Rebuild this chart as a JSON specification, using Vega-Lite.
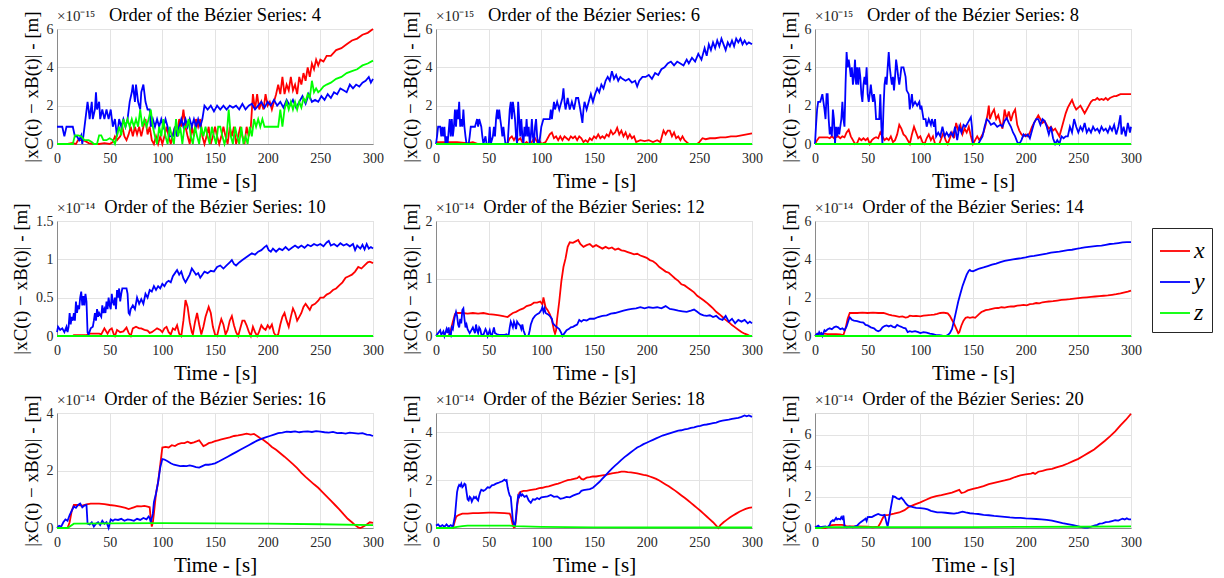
{
"$schema": "https://vega.github.io/schema/vega-lite/v6.json",
"background": "white",
"padding": {"left": 10, "top": 5, "right": 5, "bottom": 5},
"config": {
  "font": "Liberation Serif",
  "view": {"stroke": "#d9d9d9", "strokeWidth": 1},
  "axis": {"labelFont": "Liberation Serif", "labelFontSize": 14, "labelColor": "#262626", "labelFlush": false, "titleFont": "Liberation Serif", "titleFontSize": 19, "titleFontWeight": "normal", "titleColor": "#000000", "gridColor": "#e3e3e3", "domainColor": "#8a8a8a", "ticks": false, "labelPadding": 5},
  "axisX": {"titleFontSize": 21, "titlePadding": 5, "labelPadding": 7},
  "axisY": {"titlePadding": 5, "labelPadding": 4},
  "title": {"font": "Liberation Serif", "fontSize": 18.5, "fontWeight": "normal", "color": "#000000", "frame": "group", "offset": -15},
  "line": {"strokeWidth": 1.8},
  "legend": {"orient": "none", "legendX": 1095, "legendY": 199, "symbolType": "stroke", "symbolSize": 900, "symbolStrokeWidth": 2, "labelFont": "Liberation Serif", "labelFontStyle": "italic", "labelFontSize": 24, "labelColor": "#000000", "rowPadding": 3, "padding": 7, "strokeColor": "#262626", "fillColor": "#ffffff", "labelOffset": 3}
},
"datasets": {
"p4x": [{"t":0,"v":0},{"t":5,"v":0},{"t":10,"v":0},{"t":15,"v":0.05},{"t":18,"v":0},{"t":20,"v":0.2},{"t":24,"v":0.2},{"t":27,"v":0.15},{"t":30,"v":0.05},{"t":35,"v":0},{"t":40,"v":0},{"t":45,"v":0.05},{"t":50,"v":0},{"t":53,"v":0.1},{"t":55,"v":0.4},{"t":57,"v":0.2},{"t":60,"v":0.4},{"t":62,"v":0.9},{"t":64,"v":0.4},{"t":66,"v":0.2},{"t":68,"v":0.5},{"t":70,"v":0.9},{"t":72,"v":0.4},{"t":74,"v":0.9},{"t":76,"v":0.5},{"t":78,"v":0.9},{"t":80,"v":0.4},{"t":82,"v":0.9},{"t":84,"v":1.3},{"t":86,"v":0.5},{"t":88,"v":0.9},{"t":90,"v":0.2},{"t":92,"v":0},{"t":94,"v":0.4},{"t":96,"v":0},{"t":98,"v":0.4},{"t":100,"v":0},{"t":102,"v":0.4},{"t":104,"v":0.9},{"t":106,"v":0.4},{"t":108,"v":0},{"t":110,"v":0.5},{"t":112,"v":0.9},{"t":114,"v":0.4},{"t":116,"v":1.3},{"t":118,"v":0.9},{"t":120,"v":1.8},{"t":122,"v":0.9},{"t":124,"v":0.4},{"t":126,"v":0},{"t":128,"v":0.9},{"t":130,"v":0.4},{"t":132,"v":1.3},{"t":134,"v":0.9},{"t":136,"v":1.3},{"t":138,"v":0.4},{"t":140,"v":0},{"t":142,"v":0.4},{"t":144,"v":0.9},{"t":146,"v":0},{"t":148,"v":0.4},{"t":150,"v":0.9},{"t":152,"v":0.4},{"t":154,"v":0},{"t":156,"v":0.4},{"t":158,"v":0.9},{"t":160,"v":0.4},{"t":162,"v":0},{"t":164,"v":0.9},{"t":166,"v":0.4},{"t":168,"v":0.9},{"t":170,"v":0},{"t":172,"v":0.4},{"t":174,"v":0.9},{"t":176,"v":0.4},{"t":178,"v":0},{"t":180,"v":0.9},{"t":182,"v":0.4},{"t":184,"v":0.9},{"t":186,"v":2.6},{"t":188,"v":1.8},{"t":190,"v":2.6},{"t":192,"v":1.8},{"t":194,"v":2.2},{"t":196,"v":1.8},{"t":198,"v":2.6},{"t":200,"v":2.0},{"t":202,"v":2.2},{"t":204,"v":1.8},{"t":206,"v":2.2},{"t":208,"v":2.6},{"t":210,"v":3.1},{"t":212,"v":2.6},{"t":214,"v":3.5},{"t":216,"v":2.6},{"t":218,"v":3.1},{"t":220,"v":2.8},{"t":222,"v":3.5},{"t":224,"v":2.8},{"t":226,"v":3.1},{"t":228,"v":2.6},{"t":230,"v":3.5},{"t":232,"v":3.1},{"t":234,"v":3.7},{"t":236,"v":3.3},{"t":238,"v":4.0},{"t":240,"v":3.5},{"t":242,"v":4.2},{"t":244,"v":3.9},{"t":246,"v":4.4},{"t":248,"v":4.1},{"t":250,"v":4.4},{"t":253,"v":4.3},{"t":256,"v":4.6},{"t":260,"v":4.6},{"t":265,"v":4.9},{"t":270,"v":5.0},{"t":275,"v":5.2},{"t":280,"v":5.4},{"t":285,"v":5.5},{"t":290,"v":5.7},{"t":295,"v":5.8},{"t":300,"v":6.0}],
"p4y": [{"t":0,"v":0.9},{"t":3,"v":0.9},{"t":5,"v":0.9},{"t":7,"v":0.4},{"t":9,"v":0.9},{"t":12,"v":0.9},{"t":15,"v":0.9},{"t":17,"v":0.4},{"t":19,"v":0.4},{"t":21,"v":0.2},{"t":23,"v":0.45},{"t":24,"v":0},{"t":25,"v":0.4},{"t":27,"v":1.3},{"t":29,"v":2.2},{"t":30,"v":1.8},{"t":31,"v":1.3},{"t":33,"v":2.2},{"t":34,"v":1.3},{"t":36,"v":1.8},{"t":37,"v":2.7},{"t":38,"v":1.8},{"t":40,"v":2.2},{"t":41,"v":1.3},{"t":43,"v":1.8},{"t":45,"v":1.3},{"t":47,"v":1.8},{"t":49,"v":1.3},{"t":51,"v":1.8},{"t":53,"v":0.9},{"t":55,"v":1.3},{"t":57,"v":0.4},{"t":59,"v":1.3},{"t":61,"v":0.9},{"t":63,"v":1.3},{"t":65,"v":0.9},{"t":67,"v":1.3},{"t":69,"v":2.2},{"t":71,"v":2.7},{"t":72,"v":3.1},{"t":74,"v":2.2},{"t":75,"v":3.1},{"t":77,"v":2.2},{"t":79,"v":1.8},{"t":80,"v":2.7},{"t":82,"v":3.1},{"t":84,"v":2.2},{"t":86,"v":1.8},{"t":88,"v":1.8},{"t":89,"v":0.9},{"t":91,"v":1.3},{"t":93,"v":0.9},{"t":95,"v":1.3},{"t":97,"v":0.9},{"t":99,"v":1.3},{"t":101,"v":0.9},{"t":103,"v":1.3},{"t":105,"v":0.9},{"t":107,"v":0.4},{"t":110,"v":0.4},{"t":112,"v":0.9},{"t":114,"v":0.4},{"t":116,"v":0.9},{"t":118,"v":1.3},{"t":120,"v":0.9},{"t":122,"v":1.3},{"t":124,"v":0.9},{"t":126,"v":1.3},{"t":128,"v":0.9},{"t":130,"v":1.3},{"t":132,"v":0.9},{"t":134,"v":1.3},{"t":136,"v":0.9},{"t":138,"v":1.3},{"t":140,"v":2.0},{"t":143,"v":1.8},{"t":146,"v":2.0},{"t":149,"v":1.7},{"t":152,"v":2.0},{"t":155,"v":1.8},{"t":158,"v":2.0},{"t":161,"v":1.8},{"t":164,"v":2.0},{"t":167,"v":1.9},{"t":170,"v":2.0},{"t":173,"v":1.8},{"t":176,"v":2.1},{"t":179,"v":1.8},{"t":182,"v":2.0},{"t":185,"v":2.1},{"t":188,"v":1.8},{"t":191,"v":2.0},{"t":194,"v":2.2},{"t":197,"v":1.9},{"t":200,"v":2.2},{"t":203,"v":2.0},{"t":206,"v":2.3},{"t":209,"v":2.0},{"t":212,"v":2.2},{"t":215,"v":1.9},{"t":218,"v":2.3},{"t":221,"v":2.0},{"t":224,"v":2.3},{"t":227,"v":1.9},{"t":230,"v":2.2},{"t":233,"v":2.5},{"t":236,"v":2.1},{"t":239,"v":2.6},{"t":242,"v":2.2},{"t":245,"v":2.3},{"t":248,"v":2.2},{"t":251,"v":2.5},{"t":254,"v":2.3},{"t":257,"v":2.6},{"t":260,"v":2.4},{"t":263,"v":2.7},{"t":266,"v":2.6},{"t":269,"v":2.9},{"t":272,"v":2.8},{"t":275,"v":2.7},{"t":278,"v":3.1},{"t":281,"v":2.9},{"t":284,"v":3.1},{"t":287,"v":3.0},{"t":290,"v":3.2},{"t":293,"v":3.3},{"t":296,"v":3.5},{"t":298,"v":3.2},{"t":300,"v":3.4}],
"p4z": [{"t":0,"v":0},{"t":5,"v":0},{"t":10,"v":0},{"t":15,"v":0},{"t":17,"v":0.45},{"t":20,"v":0.45},{"t":23,"v":0.4},{"t":26,"v":0.2},{"t":30,"v":0.2},{"t":33,"v":0.1},{"t":35,"v":0},{"t":38,"v":0},{"t":40,"v":0.45},{"t":42,"v":0.45},{"t":44,"v":0.2},{"t":47,"v":0.2},{"t":50,"v":0.3},{"t":53,"v":0.2},{"t":55,"v":0},{"t":57,"v":0.45},{"t":59,"v":0.9},{"t":61,"v":0.45},{"t":63,"v":1.3},{"t":65,"v":0.9},{"t":67,"v":1.3},{"t":69,"v":0.9},{"t":71,"v":1.3},{"t":73,"v":0.9},{"t":75,"v":1.3},{"t":77,"v":0.9},{"t":79,"v":1.8},{"t":81,"v":0.9},{"t":83,"v":1.3},{"t":85,"v":0.9},{"t":87,"v":1.3},{"t":89,"v":1.8},{"t":91,"v":0.9},{"t":93,"v":0.4},{"t":95,"v":0},{"t":97,"v":0.9},{"t":99,"v":0.4},{"t":101,"v":1.3},{"t":103,"v":0.4},{"t":105,"v":0},{"t":107,"v":0.9},{"t":109,"v":0.4},{"t":111,"v":0},{"t":113,"v":1.3},{"t":115,"v":0.4},{"t":117,"v":0.9},{"t":119,"v":0},{"t":121,"v":0.9},{"t":123,"v":0.9},{"t":125,"v":1.3},{"t":127,"v":0.4},{"t":129,"v":0},{"t":131,"v":0.9},{"t":133,"v":0.4},{"t":135,"v":0},{"t":137,"v":0.9},{"t":139,"v":0.4},{"t":141,"v":0.9},{"t":143,"v":0.4},{"t":145,"v":0},{"t":147,"v":0.9},{"t":149,"v":0.4},{"t":151,"v":0},{"t":153,"v":0.9},{"t":155,"v":0.9},{"t":157,"v":0.4},{"t":159,"v":0},{"t":161,"v":0.4},{"t":163,"v":1.8},{"t":165,"v":0.4},{"t":167,"v":0},{"t":169,"v":0.9},{"t":171,"v":0.4},{"t":173,"v":0},{"t":175,"v":0.9},{"t":177,"v":0},{"t":179,"v":0.4},{"t":181,"v":0},{"t":183,"v":0.9},{"t":185,"v":0.4},{"t":187,"v":1.3},{"t":189,"v":0.9},{"t":191,"v":1.3},{"t":193,"v":0.9},{"t":195,"v":1.3},{"t":197,"v":0.9},{"t":200,"v":0.9},{"t":205,"v":0.9},{"t":210,"v":0.9},{"t":212,"v":1.8},{"t":214,"v":0.9},{"t":216,"v":1.8},{"t":218,"v":2.2},{"t":220,"v":1.8},{"t":222,"v":2.2},{"t":224,"v":1.8},{"t":226,"v":2.2},{"t":228,"v":1.8},{"t":230,"v":2.2},{"t":232,"v":1.9},{"t":234,"v":2.4},{"t":236,"v":2.2},{"t":238,"v":2.6},{"t":240,"v":2.4},{"t":242,"v":3.3},{"t":244,"v":2.7},{"t":246,"v":2.9},{"t":248,"v":2.7},{"t":250,"v":2.8},{"t":253,"v":3.0},{"t":256,"v":3.1},{"t":260,"v":3.2},{"t":265,"v":3.4},{"t":270,"v":3.5},{"t":275,"v":3.7},{"t":280,"v":3.8},{"t":285,"v":3.9},{"t":290,"v":4.1},{"t":295,"v":4.2},{"t":300,"v":4.35}],
"p6x": [{"t":0,"v":0.1},{"t":10,"v":0.1},{"t":20,"v":0.1},{"t":30,"v":0.05},{"t":35,"v":0.1},{"t":40,"v":0},{"t":45,"v":0},{"t":50,"v":0},{"t":55,"v":0},{"t":60,"v":0},{"t":65,"v":0},{"t":68,"v":0.05},{"t":70,"v":0.3},{"t":72,"v":0.4},{"t":74,"v":0.2},{"t":76,"v":0.4},{"t":78,"v":0.2},{"t":80,"v":0.3},{"t":82,"v":0.1},{"t":84,"v":0},{"t":86,"v":0.1},{"t":88,"v":0},{"t":90,"v":0},{"t":92,"v":0.2},{"t":94,"v":0.3},{"t":96,"v":0.1},{"t":98,"v":0.2},{"t":100,"v":0},{"t":102,"v":0.05},{"t":104,"v":0.1},{"t":106,"v":0.3},{"t":108,"v":0.5},{"t":110,"v":0.6},{"t":112,"v":0.3},{"t":114,"v":0.4},{"t":116,"v":0.2},{"t":118,"v":0.4},{"t":120,"v":0.2},{"t":122,"v":0.4},{"t":124,"v":0.3},{"t":126,"v":0.2},{"t":128,"v":0.4},{"t":130,"v":0.3},{"t":132,"v":0.4},{"t":134,"v":0.2},{"t":136,"v":0.4},{"t":138,"v":0.3},{"t":140,"v":0.1},{"t":142,"v":0.2},{"t":144,"v":0.1},{"t":146,"v":0.3},{"t":148,"v":0.2},{"t":150,"v":0.4},{"t":152,"v":0.3},{"t":154,"v":0.5},{"t":156,"v":0.3},{"t":158,"v":0.4},{"t":160,"v":0.3},{"t":162,"v":0.5},{"t":164,"v":0.4},{"t":166,"v":0.7},{"t":168,"v":0.5},{"t":170,"v":0.6},{"t":172,"v":0.85},{"t":174,"v":0.5},{"t":176,"v":0.7},{"t":178,"v":0.4},{"t":180,"v":0.6},{"t":182,"v":0.3},{"t":184,"v":0.5},{"t":186,"v":0.3},{"t":188,"v":0.4},{"t":190,"v":0.1},{"t":194,"v":0.2},{"t":198,"v":0.15},{"t":202,"v":0.2},{"t":206,"v":0.1},{"t":210,"v":0.2},{"t":213,"v":0.1},{"t":216,"v":0.7},{"t":218,"v":0.5},{"t":220,"v":0.7},{"t":222,"v":0.7},{"t":224,"v":0.4},{"t":226,"v":0.6},{"t":228,"v":0.3},{"t":230,"v":0.4},{"t":232,"v":0.2},{"t":234,"v":0.4},{"t":236,"v":0.2},{"t":238,"v":0.1},{"t":240,"v":0},{"t":244,"v":0},{"t":248,"v":0},{"t":250,"v":0.1},{"t":253,"v":0.3},{"t":256,"v":0.25},{"t":260,"v":0.3},{"t":265,"v":0.3},{"t":270,"v":0.35},{"t":275,"v":0.35},{"t":280,"v":0.4},{"t":285,"v":0.4},{"t":290,"v":0.45},{"t":295,"v":0.5},{"t":300,"v":0.55}],
"p6y": [{"t":0,"v":0},{"t":1,"v":0.4},{"t":2,"v":0.9},{"t":4,"v":0.9},{"t":5,"v":0.4},{"t":6,"v":0.9},{"t":7,"v":0.4},{"t":8,"v":0.9},{"t":9,"v":0},{"t":10,"v":0.4},{"t":11,"v":0},{"t":13,"v":1.3},{"t":14,"v":0.4},{"t":15,"v":1.3},{"t":16,"v":0.4},{"t":17,"v":0.9},{"t":18,"v":1.8},{"t":19,"v":0.9},{"t":20,"v":1.8},{"t":21,"v":1.3},{"t":22,"v":2.2},{"t":23,"v":0.9},{"t":24,"v":1.3},{"t":25,"v":0.9},{"t":26,"v":1.8},{"t":27,"v":0.9},{"t":28,"v":0.4},{"t":29,"v":0},{"t":31,"v":0},{"t":32,"v":0.4},{"t":33,"v":0.9},{"t":35,"v":0.9},{"t":37,"v":0.9},{"t":39,"v":1.3},{"t":40,"v":0.9},{"t":41,"v":1.3},{"t":43,"v":0.9},{"t":44,"v":0.4},{"t":45,"v":0},{"t":47,"v":0.4},{"t":48,"v":0},{"t":50,"v":0},{"t":51,"v":0.9},{"t":52,"v":0},{"t":54,"v":0.4},{"t":55,"v":0.9},{"t":56,"v":0.4},{"t":57,"v":1.3},{"t":58,"v":1.8},{"t":59,"v":1.3},{"t":60,"v":1.8},{"t":61,"v":1.3},{"t":62,"v":0.9},{"t":63,"v":0.4},{"t":64,"v":0.9},{"t":65,"v":0.4},{"t":66,"v":0},{"t":68,"v":0},{"t":69,"v":0.9},{"t":70,"v":1.8},{"t":71,"v":2.2},{"t":72,"v":1.3},{"t":73,"v":2.2},{"t":74,"v":1.8},{"t":75,"v":1.3},{"t":76,"v":0.4},{"t":77,"v":0},{"t":78,"v":2.2},{"t":79,"v":1.3},{"t":80,"v":0.4},{"t":81,"v":1.3},{"t":82,"v":0.4},{"t":83,"v":0},{"t":84,"v":0.9},{"t":85,"v":0.4},{"t":86,"v":1.3},{"t":87,"v":0.4},{"t":88,"v":0.9},{"t":89,"v":0},{"t":90,"v":0.4},{"t":91,"v":1.3},{"t":92,"v":0.4},{"t":93,"v":0},{"t":94,"v":0.9},{"t":95,"v":1.3},{"t":96,"v":0.4},{"t":97,"v":0},{"t":98,"v":0},{"t":100,"v":0.9},{"t":102,"v":1.3},{"t":104,"v":1.3},{"t":106,"v":1.3},{"t":108,"v":1.3},{"t":109,"v":1.8},{"t":110,"v":1.3},{"t":112,"v":2.2},{"t":113,"v":1.8},{"t":115,"v":2.2},{"t":117,"v":1.8},{"t":118,"v":2.0},{"t":120,"v":2.4},{"t":121,"v":2.9},{"t":122,"v":2.2},{"t":123,"v":1.8},{"t":125,"v":2.4},{"t":127,"v":1.8},{"t":129,"v":2.2},{"t":131,"v":1.8},{"t":133,"v":2.4},{"t":135,"v":2.4},{"t":137,"v":1.8},{"t":139,"v":1.1},{"t":140,"v":1.8},{"t":141,"v":2.2},{"t":143,"v":1.8},{"t":145,"v":2.2},{"t":147,"v":2.6},{"t":149,"v":2.2},{"t":151,"v":2.6},{"t":153,"v":2.9},{"t":155,"v":2.7},{"t":157,"v":3.1},{"t":159,"v":2.9},{"t":161,"v":3.3},{"t":163,"v":3.5},{"t":165,"v":3.3},{"t":167,"v":3.8},{"t":169,"v":3.4},{"t":171,"v":3.6},{"t":173,"v":3.3},{"t":175,"v":3.5},{"t":177,"v":3.4},{"t":180,"v":3.3},{"t":183,"v":3.4},{"t":186,"v":3.2},{"t":189,"v":3.3},{"t":191,"v":3.0},{"t":193,"v":3.3},{"t":196,"v":3.5},{"t":199,"v":3.5},{"t":202,"v":3.6},{"t":205,"v":3.4},{"t":208,"v":3.7},{"t":211,"v":3.6},{"t":214,"v":3.9},{"t":217,"v":4.0},{"t":220,"v":4.2},{"t":223,"v":4.3},{"t":226,"v":4.1},{"t":229,"v":4.3},{"t":232,"v":4.2},{"t":235,"v":4.1},{"t":238,"v":4.4},{"t":240,"v":4.2},{"t":243,"v":4.5},{"t":246,"v":4.3},{"t":249,"v":4.7},{"t":252,"v":4.4},{"t":255,"v":5.0},{"t":257,"v":4.6},{"t":259,"v":5.2},{"t":261,"v":4.9},{"t":263,"v":5.3},{"t":265,"v":5.0},{"t":267,"v":5.4},{"t":269,"v":5.1},{"t":271,"v":5.5},{"t":273,"v":5.2},{"t":275,"v":4.9},{"t":277,"v":5.3},{"t":279,"v":5.1},{"t":281,"v":5.4},{"t":283,"v":5.1},{"t":285,"v":5.5},{"t":287,"v":5.3},{"t":289,"v":5.5},{"t":291,"v":5.2},{"t":293,"v":5.4},{"t":295,"v":5.2},{"t":297,"v":5.3},{"t":300,"v":5.2}],
"zero": [{"t":0,"v":0},{"t":300,"v":0}],
"p8x": [{"t":0,"v":0},{"t":2,"v":0.2},{"t":4,"v":0.35},{"t":8,"v":0.35},{"t":12,"v":0.35},{"t":14,"v":0.3},{"t":16,"v":0.4},{"t":18,"v":0.3},{"t":20,"v":0.35},{"t":22,"v":0.4},{"t":24,"v":0.3},{"t":26,"v":0.4},{"t":28,"v":0.35},{"t":30,"v":0.6},{"t":32,"v":0.75},{"t":34,"v":0.4},{"t":36,"v":0.2},{"t":38,"v":0},{"t":40,"v":0.05},{"t":42,"v":0.3},{"t":44,"v":0.2},{"t":46,"v":0.3},{"t":48,"v":0.2},{"t":50,"v":0.3},{"t":52,"v":0},{"t":54,"v":0.2},{"t":56,"v":0.3},{"t":58,"v":0.35},{"t":60,"v":0.3},{"t":62,"v":0.6},{"t":64,"v":0.4},{"t":66,"v":0.2},{"t":68,"v":0.3},{"t":70,"v":0.2},{"t":72,"v":0.4},{"t":74,"v":0.1},{"t":76,"v":0.2},{"t":78,"v":0.5},{"t":80,"v":1.0},{"t":82,"v":0.8},{"t":84,"v":0.5},{"t":86,"v":0.4},{"t":88,"v":0.2},{"t":90,"v":0},{"t":92,"v":0.5},{"t":94,"v":0.9},{"t":96,"v":0.6},{"t":98,"v":0.3},{"t":100,"v":0.4},{"t":102,"v":0.1},{"t":104,"v":0},{"t":106,"v":0.3},{"t":108,"v":0.5},{"t":110,"v":0.2},{"t":112,"v":0.4},{"t":114,"v":0},{"t":118,"v":0},{"t":120,"v":0.3},{"t":122,"v":0.6},{"t":124,"v":0.2},{"t":126,"v":0},{"t":128,"v":0.3},{"t":130,"v":0.6},{"t":132,"v":0.3},{"t":134,"v":1.1},{"t":136,"v":0.7},{"t":138,"v":1.0},{"t":140,"v":0.5},{"t":142,"v":0.8},{"t":144,"v":0.6},{"t":146,"v":0.9},{"t":148,"v":0.4},{"t":150,"v":0},{"t":152,"v":0.2},{"t":154,"v":0.4},{"t":156,"v":0.2},{"t":158,"v":0.4},{"t":160,"v":0.6},{"t":162,"v":1.0},{"t":164,"v":1.6},{"t":165,"v":2.0},{"t":166,"v":1.3},{"t":168,"v":1.6},{"t":170,"v":1.8},{"t":172,"v":1.3},{"t":174,"v":1.5},{"t":176,"v":1.1},{"t":178,"v":0.8},{"t":180,"v":1.8},{"t":182,"v":1.3},{"t":184,"v":1.7},{"t":186,"v":1.2},{"t":188,"v":1.6},{"t":190,"v":1.8},{"t":192,"v":1.0},{"t":194,"v":0.7},{"t":196,"v":0.5},{"t":198,"v":0.4},{"t":200,"v":0.5},{"t":202,"v":0.4},{"t":204,"v":0.6},{"t":206,"v":0.9},{"t":208,"v":1.1},{"t":210,"v":1.3},{"t":212,"v":1.5},{"t":214,"v":1.3},{"t":216,"v":1.1},{"t":218,"v":1.2},{"t":220,"v":1.0},{"t":222,"v":0.8},{"t":224,"v":0.9},{"t":226,"v":0.7},{"t":228,"v":0.8},{"t":230,"v":0.6},{"t":232,"v":0.4},{"t":234,"v":0.8},{"t":236,"v":1.2},{"t":238,"v":1.6},{"t":240,"v":1.9},{"t":242,"v":2.1},{"t":244,"v":2.3},{"t":246,"v":2.0},{"t":248,"v":1.8},{"t":250,"v":1.9},{"t":252,"v":2.0},{"t":254,"v":1.8},{"t":256,"v":1.6},{"t":258,"v":1.8},{"t":260,"v":2.0},{"t":262,"v":2.2},{"t":264,"v":2.3},{"t":266,"v":2.3},{"t":268,"v":2.4},{"t":270,"v":2.3},{"t":272,"v":2.35},{"t":274,"v":2.3},{"t":276,"v":2.4},{"t":278,"v":2.3},{"t":280,"v":2.4},{"t":282,"v":2.45},{"t":284,"v":2.5},{"t":286,"v":2.5},{"t":288,"v":2.55},{"t":290,"v":2.6},{"t":292,"v":2.6},{"t":295,"v":2.6},{"t":300,"v":2.6}],
"p8y": [{"t":0,"v":0},{"t":1,"v":1.0},{"t":2,"v":1.8},{"t":3,"v":2.2},{"t":5,"v":2.2},{"t":6,"v":2.4},{"t":7,"v":2.6},{"t":8,"v":2.2},{"t":9,"v":1.8},{"t":10,"v":1.3},{"t":11,"v":2.6},{"t":12,"v":2.6},{"t":13,"v":1.3},{"t":14,"v":0.5},{"t":15,"v":0.9},{"t":16,"v":0.4},{"t":17,"v":1.8},{"t":18,"v":1.3},{"t":19,"v":0},{"t":20,"v":0.9},{"t":21,"v":0.4},{"t":22,"v":0.9},{"t":23,"v":0.5},{"t":24,"v":0.9},{"t":25,"v":1.3},{"t":26,"v":2.2},{"t":27,"v":1.3},{"t":28,"v":0.9},{"t":29,"v":3.1},{"t":30,"v":4.8},{"t":31,"v":4.0},{"t":32,"v":4.4},{"t":33,"v":4.0},{"t":34,"v":3.5},{"t":35,"v":4.0},{"t":36,"v":3.1},{"t":37,"v":3.5},{"t":38,"v":4.4},{"t":39,"v":3.1},{"t":40,"v":4.0},{"t":41,"v":3.1},{"t":42,"v":4.0},{"t":43,"v":3.5},{"t":44,"v":2.6},{"t":45,"v":2.2},{"t":46,"v":3.1},{"t":47,"v":3.5},{"t":48,"v":3.1},{"t":49,"v":4.0},{"t":50,"v":2.6},{"t":51,"v":2.2},{"t":52,"v":2.6},{"t":53,"v":3.1},{"t":54,"v":2.6},{"t":55,"v":2.2},{"t":56,"v":2.6},{"t":57,"v":2.2},{"t":58,"v":1.3},{"t":60,"v":1.3},{"t":61,"v":1.3},{"t":62,"v":2.6},{"t":63,"v":0.9},{"t":64,"v":0},{"t":65,"v":1.8},{"t":66,"v":3.1},{"t":67,"v":3.5},{"t":68,"v":3.1},{"t":69,"v":4.0},{"t":70,"v":4.8},{"t":71,"v":4.0},{"t":72,"v":3.5},{"t":73,"v":3.1},{"t":74,"v":3.5},{"t":75,"v":2.8},{"t":76,"v":3.5},{"t":77,"v":4.4},{"t":78,"v":4.0},{"t":79,"v":3.5},{"t":80,"v":3.1},{"t":81,"v":3.5},{"t":82,"v":4.0},{"t":84,"v":4.0},{"t":86,"v":3.5},{"t":87,"v":2.8},{"t":89,"v":2.6},{"t":90,"v":1.8},{"t":91,"v":2.2},{"t":92,"v":2.6},{"t":93,"v":2.0},{"t":95,"v":2.2},{"t":97,"v":2.0},{"t":99,"v":2.2},{"t":100,"v":1.8},{"t":101,"v":2.0},{"t":103,"v":1.3},{"t":105,"v":1.3},{"t":106,"v":0.9},{"t":108,"v":1.3},{"t":110,"v":1.0},{"t":111,"v":1.3},{"t":113,"v":0.9},{"t":114,"v":1.3},{"t":115,"v":0.4},{"t":117,"v":0.6},{"t":119,"v":0.4},{"t":121,"v":0.9},{"t":123,"v":0.4},{"t":125,"v":0.6},{"t":127,"v":0.4},{"t":129,"v":0.6},{"t":131,"v":0.4},{"t":133,"v":0.9},{"t":135,"v":0.2},{"t":137,"v":0.9},{"t":139,"v":0.6},{"t":141,"v":1.0},{"t":143,"v":0.9},{"t":145,"v":1.1},{"t":147,"v":1.3},{"t":148,"v":1.4},{"t":149,"v":0.9},{"t":150,"v":0},{"t":152,"v":0},{"t":155,"v":0},{"t":157,"v":0.2},{"t":159,"v":0.4},{"t":161,"v":0.9},{"t":163,"v":1.3},{"t":165,"v":1.2},{"t":167,"v":1.0},{"t":170,"v":1.1},{"t":173,"v":0.9},{"t":176,"v":1.0},{"t":178,"v":0.9},{"t":180,"v":1.2},{"t":182,"v":1.35},{"t":184,"v":1.1},{"t":186,"v":0.9},{"t":188,"v":0.6},{"t":190,"v":0.4},{"t":192,"v":0.1},{"t":194,"v":0},{"t":196,"v":0.2},{"t":198,"v":0.5},{"t":200,"v":0.4},{"t":202,"v":0.5},{"t":204,"v":0.3},{"t":206,"v":0.7},{"t":208,"v":1.1},{"t":210,"v":1.3},{"t":212,"v":1.3},{"t":214,"v":1.0},{"t":216,"v":1.3},{"t":218,"v":1.2},{"t":220,"v":0.9},{"t":222,"v":0.5},{"t":224,"v":0.9},{"t":226,"v":0.3},{"t":228,"v":0},{"t":230,"v":0.2},{"t":232,"v":0},{"t":234,"v":0.4},{"t":236,"v":0.3},{"t":238,"v":0.4},{"t":240,"v":0.4},{"t":242,"v":0.9},{"t":244,"v":0.6},{"t":246,"v":1.3},{"t":248,"v":0.9},{"t":250,"v":0.6},{"t":252,"v":0.9},{"t":254,"v":0.7},{"t":256,"v":1.1},{"t":258,"v":0.6},{"t":260,"v":0.8},{"t":262,"v":0.6},{"t":264,"v":0.9},{"t":266,"v":0.7},{"t":268,"v":0.8},{"t":270,"v":0.6},{"t":272,"v":0.9},{"t":274,"v":0.7},{"t":276,"v":0.8},{"t":278,"v":0.6},{"t":280,"v":0.9},{"t":282,"v":0.7},{"t":284,"v":1.0},{"t":286,"v":0.5},{"t":288,"v":0.9},{"t":290,"v":1.5},{"t":291,"v":0.5},{"t":293,"v":0.9},{"t":295,"v":0.4},{"t":297,"v":1.1},{"t":299,"v":0.6},{"t":300,"v":0.9}],
"p10x": [{"t":0,"v":0},{"t":15,"v":0},{"t":16,"v":0.01},{"t":28,"v":0.01},{"t":30,"v":0.03},{"t":40,"v":0.03},{"t":42,"v":0.02},{"t":45,"v":0.1},{"t":48,"v":0.03},{"t":50,"v":0.08},{"t":52,"v":0.1},{"t":54,"v":0.02},{"t":55,"v":0},{"t":57,"v":0.08},{"t":60,"v":0.05},{"t":63,"v":0.06},{"t":66,"v":0.11},{"t":68,"v":0.04},{"t":70,"v":0},{"t":72,"v":0.1},{"t":75,"v":0.12},{"t":78,"v":0.1},{"t":80,"v":0.1},{"t":83,"v":0.08},{"t":86,"v":0.07},{"t":88,"v":0.04},{"t":90,"v":0.05},{"t":93,"v":0.08},{"t":95,"v":0.1},{"t":98,"v":0.08},{"t":100,"v":0.05},{"t":102,"v":0.1},{"t":104,"v":0.12},{"t":106,"v":0.05},{"t":108,"v":0.02},{"t":110,"v":0.1},{"t":112,"v":0.08},{"t":114,"v":0.14},{"t":116,"v":0.03},{"t":118,"v":0},{"t":120,"v":0.2},{"t":122,"v":0.47},{"t":124,"v":0.38},{"t":126,"v":0.18},{"t":128,"v":0.05},{"t":129,"v":0.02},{"t":131,"v":0.18},{"t":133,"v":0.3},{"t":135,"v":0.15},{"t":137,"v":0.02},{"t":139,"v":0.12},{"t":141,"v":0.25},{"t":144,"v":0.38},{"t":146,"v":0.3},{"t":148,"v":0.12},{"t":150,"v":0.02},{"t":152,"v":0},{"t":154,"v":0.12},{"t":156,"v":0.22},{"t":158,"v":0.15},{"t":160,"v":0.02},{"t":162,"v":0.08},{"t":164,"v":0.2},{"t":166,"v":0.26},{"t":168,"v":0.14},{"t":170,"v":0.05},{"t":172,"v":0},{"t":174,"v":0.1},{"t":176,"v":0.2},{"t":178,"v":0.2},{"t":180,"v":0.14},{"t":182,"v":0.06},{"t":184,"v":0},{"t":186,"v":0.12},{"t":188,"v":0.05},{"t":190,"v":0},{"t":192,"v":0.06},{"t":194,"v":0.14},{"t":196,"v":0.1},{"t":198,"v":0.08},{"t":200,"v":0.14},{"t":202,"v":0.1},{"t":204,"v":0.15},{"t":206,"v":0.04},{"t":208,"v":0},{"t":210,"v":0.02},{"t":212,"v":0.15},{"t":214,"v":0.25},{"t":216,"v":0.3},{"t":218,"v":0.2},{"t":220,"v":0.12},{"t":222,"v":0.25},{"t":224,"v":0.36},{"t":226,"v":0.3},{"t":228,"v":0.2},{"t":230,"v":0.25},{"t":232,"v":0.3},{"t":234,"v":0.38},{"t":236,"v":0.42},{"t":238,"v":0.38},{"t":240,"v":0.34},{"t":242,"v":0.4},{"t":245,"v":0.42},{"t":248,"v":0.46},{"t":250,"v":0.5},{"t":253,"v":0.5},{"t":256,"v":0.54},{"t":259,"v":0.56},{"t":262,"v":0.6},{"t":265,"v":0.62},{"t":268,"v":0.66},{"t":271,"v":0.7},{"t":274,"v":0.76},{"t":277,"v":0.78},{"t":280,"v":0.8},{"t":283,"v":0.84},{"t":286,"v":0.9},{"t":289,"v":0.88},{"t":292,"v":0.92},{"t":295,"v":0.96},{"t":297,"v":0.97},{"t":300,"v":0.95}],
"p10y": [{"t":0,"v":0.05},{"t":1,"v":0.12},{"t":3,"v":0.08},{"t":5,"v":0.1},{"t":7,"v":0.05},{"t":9,"v":0.12},{"t":10,"v":0.05},{"t":11,"v":0.12},{"t":12,"v":0.3},{"t":13,"v":0.15},{"t":14,"v":0.25},{"t":15,"v":0.2},{"t":16,"v":0.3},{"t":17,"v":0.2},{"t":18,"v":0.45},{"t":19,"v":0.3},{"t":20,"v":0.4},{"t":21,"v":0.35},{"t":22,"v":0.5},{"t":23,"v":0.58},{"t":24,"v":0.4},{"t":25,"v":0.52},{"t":26,"v":0.4},{"t":27,"v":0.55},{"t":28,"v":0.45},{"t":29,"v":0.05},{"t":30,"v":0.02},{"t":32,"v":0.1},{"t":34,"v":0.12},{"t":35,"v":0.2},{"t":36,"v":0.3},{"t":37,"v":0.2},{"t":38,"v":0.35},{"t":39,"v":0.25},{"t":40,"v":0.3},{"t":42,"v":0.25},{"t":43,"v":0.4},{"t":44,"v":0.3},{"t":45,"v":0.35},{"t":46,"v":0.3},{"t":47,"v":0.45},{"t":48,"v":0.35},{"t":49,"v":0.5},{"t":50,"v":0.4},{"t":51,"v":0.35},{"t":52,"v":0.55},{"t":53,"v":0.45},{"t":54,"v":0.4},{"t":55,"v":0.5},{"t":56,"v":0.35},{"t":57,"v":0.6},{"t":58,"v":0.5},{"t":59,"v":0.62},{"t":60,"v":0.45},{"t":61,"v":0.55},{"t":62,"v":0.62},{"t":64,"v":0.62},{"t":66,"v":0.62},{"t":67,"v":0.55},{"t":68,"v":0.3},{"t":69,"v":0.28},{"t":70,"v":0.35},{"t":72,"v":0.4},{"t":74,"v":0.35},{"t":76,"v":0.5},{"t":78,"v":0.42},{"t":80,"v":0.48},{"t":82,"v":0.42},{"t":84,"v":0.55},{"t":86,"v":0.5},{"t":88,"v":0.6},{"t":90,"v":0.58},{"t":92,"v":0.65},{"t":94,"v":0.6},{"t":96,"v":0.65},{"t":98,"v":0.62},{"t":100,"v":0.68},{"t":102,"v":0.65},{"t":104,"v":0.7},{"t":106,"v":0.72},{"t":108,"v":0.7},{"t":110,"v":0.78},{"t":112,"v":0.82},{"t":114,"v":0.86},{"t":116,"v":0.8},{"t":118,"v":0.84},{"t":120,"v":0.75},{"t":122,"v":0.7},{"t":124,"v":0.75},{"t":126,"v":0.8},{"t":128,"v":0.88},{"t":130,"v":0.84},{"t":132,"v":0.8},{"t":134,"v":0.82},{"t":136,"v":0.76},{"t":138,"v":0.8},{"t":140,"v":0.84},{"t":143,"v":0.82},{"t":146,"v":0.85},{"t":149,"v":0.84},{"t":152,"v":0.9},{"t":155,"v":0.92},{"t":158,"v":0.88},{"t":161,"v":0.92},{"t":164,"v":0.96},{"t":166,"v":0.99},{"t":168,"v":0.94},{"t":170,"v":0.92},{"t":173,"v":0.96},{"t":176,"v":0.99},{"t":179,"v":1.02},{"t":182,"v":1.05},{"t":185,"v":1.08},{"t":188,"v":1.06},{"t":191,"v":1.1},{"t":194,"v":1.12},{"t":197,"v":1.16},{"t":199,"v":1.18},{"t":201,"v":1.12},{"t":203,"v":1.1},{"t":205,"v":1.14},{"t":208,"v":1.1},{"t":211,"v":1.14},{"t":214,"v":1.12},{"t":217,"v":1.16},{"t":220,"v":1.12},{"t":223,"v":1.15},{"t":226,"v":1.18},{"t":229,"v":1.15},{"t":232,"v":1.18},{"t":235,"v":1.15},{"t":238,"v":1.19},{"t":241,"v":1.17},{"t":244,"v":1.2},{"t":247,"v":1.18},{"t":250,"v":1.2},{"t":253,"v":1.17},{"t":256,"v":1.22},{"t":258,"v":1.24},{"t":260,"v":1.18},{"t":263,"v":1.2},{"t":266,"v":1.17},{"t":269,"v":1.21},{"t":272,"v":1.18},{"t":275,"v":1.2},{"t":278,"v":1.17},{"t":281,"v":1.2},{"t":283,"v":1.12},{"t":285,"v":1.18},{"t":288,"v":1.14},{"t":290,"v":1.19},{"t":292,"v":1.13},{"t":294,"v":1.2},{"t":296,"v":1.14},{"t":298,"v":1.16},{"t":300,"v":1.14}],
"p12x": [{"t":0,"v":0},{"t":12,"v":0},{"t":14,"v":0.1},{"t":16,"v":0.25},{"t":18,"v":0.38},{"t":20,"v":0.4},{"t":25,"v":0.4},{"t":30,"v":0.39},{"t":35,"v":0.4},{"t":40,"v":0.39},{"t":45,"v":0.4},{"t":50,"v":0.38},{"t":55,"v":0.37},{"t":60,"v":0.36},{"t":65,"v":0.34},{"t":68,"v":0.33},{"t":70,"v":0.36},{"t":73,"v":0.4},{"t":76,"v":0.42},{"t":80,"v":0.46},{"t":83,"v":0.48},{"t":86,"v":0.52},{"t":90,"v":0.54},{"t":93,"v":0.58},{"t":96,"v":0.58},{"t":99,"v":0.6},{"t":101,"v":0.55},{"t":102,"v":0.67},{"t":104,"v":0.5},{"t":106,"v":0.45},{"t":108,"v":0.38},{"t":110,"v":0.28},{"t":112,"v":0.1},{"t":113,"v":0.04},{"t":114,"v":0.1},{"t":115,"v":0.3},{"t":117,"v":0.6},{"t":119,"v":0.95},{"t":121,"v":1.2},{"t":123,"v":1.35},{"t":125,"v":1.55},{"t":127,"v":1.63},{"t":130,"v":1.62},{"t":133,"v":1.65},{"t":135,"v":1.67},{"t":137,"v":1.6},{"t":140,"v":1.55},{"t":143,"v":1.58},{"t":146,"v":1.6},{"t":149,"v":1.55},{"t":152,"v":1.58},{"t":155,"v":1.55},{"t":158,"v":1.52},{"t":161,"v":1.55},{"t":164,"v":1.52},{"t":167,"v":1.54},{"t":170,"v":1.5},{"t":173,"v":1.52},{"t":176,"v":1.49},{"t":179,"v":1.48},{"t":182,"v":1.46},{"t":185,"v":1.44},{"t":188,"v":1.42},{"t":191,"v":1.43},{"t":194,"v":1.4},{"t":197,"v":1.38},{"t":200,"v":1.36},{"t":203,"v":1.32},{"t":206,"v":1.3},{"t":209,"v":1.26},{"t":212,"v":1.2},{"t":215,"v":1.16},{"t":218,"v":1.12},{"t":221,"v":1.1},{"t":224,"v":1.05},{"t":227,"v":1.0},{"t":230,"v":0.96},{"t":233,"v":0.9},{"t":236,"v":0.88},{"t":239,"v":0.84},{"t":242,"v":0.8},{"t":245,"v":0.76},{"t":248,"v":0.7},{"t":251,"v":0.66},{"t":254,"v":0.62},{"t":257,"v":0.58},{"t":260,"v":0.53},{"t":263,"v":0.48},{"t":266,"v":0.42},{"t":269,"v":0.38},{"t":272,"v":0.33},{"t":275,"v":0.28},{"t":278,"v":0.24},{"t":281,"v":0.19},{"t":284,"v":0.15},{"t":287,"v":0.11},{"t":290,"v":0.07},{"t":293,"v":0.04},{"t":296,"v":0.02},{"t":298,"v":0},{"t":300,"v":0}],
"p12y": [{"t":0,"v":0},{"t":2,"v":0.05},{"t":4,"v":0.1},{"t":5,"v":0.02},{"t":7,"v":0.08},{"t":8,"v":0},{"t":10,"v":0.12},{"t":11,"v":0.05},{"t":12,"v":0.15},{"t":13,"v":0.02},{"t":14,"v":0},{"t":15,"v":0.15},{"t":16,"v":0.12},{"t":17,"v":0.25},{"t":18,"v":0.35},{"t":19,"v":0.42},{"t":20,"v":0.35},{"t":21,"v":0.2},{"t":22,"v":0.15},{"t":23,"v":0.3},{"t":24,"v":0.22},{"t":25,"v":0.45},{"t":26,"v":0.48},{"t":27,"v":0.3},{"t":28,"v":0.15},{"t":29,"v":0.2},{"t":30,"v":0.12},{"t":32,"v":0.05},{"t":33,"v":0.08},{"t":35,"v":0.15},{"t":37,"v":0.05},{"t":38,"v":0.2},{"t":39,"v":0.1},{"t":40,"v":0.05},{"t":41,"v":0.15},{"t":42,"v":0.12},{"t":43,"v":0.03},{"t":45,"v":0.02},{"t":47,"v":0.12},{"t":48,"v":0.08},{"t":49,"v":0},{"t":51,"v":0.1},{"t":52,"v":0.02},{"t":53,"v":0},{"t":55,"v":0.15},{"t":56,"v":0.05},{"t":58,"v":0.03},{"t":60,"v":0.02},{"t":65,"v":0.02},{"t":67,"v":0.03},{"t":68,"v":0},{"t":69,"v":0.02},{"t":70,"v":0.15},{"t":71,"v":0.25},{"t":72,"v":0.2},{"t":73,"v":0.15},{"t":74,"v":0.25},{"t":75,"v":0.2},{"t":76,"v":0.12},{"t":77,"v":0.25},{"t":78,"v":0.22},{"t":80,"v":0.18},{"t":81,"v":0.12},{"t":82,"v":0.2},{"t":83,"v":0.1},{"t":84,"v":0.05},{"t":85,"v":0},{"t":87,"v":0},{"t":88,"v":0.02},{"t":89,"v":0.1},{"t":90,"v":0.2},{"t":92,"v":0.3},{"t":94,"v":0.35},{"t":96,"v":0.38},{"t":98,"v":0.4},{"t":100,"v":0.45},{"t":101,"v":0.5},{"t":102,"v":0.42},{"t":103,"v":0.48},{"t":104,"v":0.4},{"t":106,"v":0.38},{"t":108,"v":0.35},{"t":110,"v":0.3},{"t":111,"v":0.22},{"t":113,"v":0.18},{"t":115,"v":0.15},{"t":117,"v":0.12},{"t":119,"v":0.05},{"t":120,"v":0},{"t":122,"v":0.05},{"t":124,"v":0.1},{"t":126,"v":0.12},{"t":128,"v":0.15},{"t":130,"v":0.16},{"t":132,"v":0.18},{"t":134,"v":0.2},{"t":136,"v":0.28},{"t":138,"v":0.25},{"t":140,"v":0.28},{"t":143,"v":0.27},{"t":146,"v":0.3},{"t":150,"v":0.3},{"t":154,"v":0.33},{"t":158,"v":0.35},{"t":162,"v":0.36},{"t":166,"v":0.39},{"t":170,"v":0.4},{"t":174,"v":0.42},{"t":178,"v":0.44},{"t":182,"v":0.46},{"t":186,"v":0.47},{"t":190,"v":0.48},{"t":194,"v":0.5},{"t":198,"v":0.48},{"t":202,"v":0.5},{"t":206,"v":0.49},{"t":210,"v":0.5},{"t":214,"v":0.48},{"t":218,"v":0.52},{"t":222,"v":0.47},{"t":226,"v":0.46},{"t":230,"v":0.44},{"t":234,"v":0.43},{"t":238,"v":0.42},{"t":242,"v":0.44},{"t":245,"v":0.46},{"t":248,"v":0.42},{"t":251,"v":0.38},{"t":254,"v":0.36},{"t":257,"v":0.35},{"t":260,"v":0.36},{"t":263,"v":0.33},{"t":266,"v":0.35},{"t":269,"v":0.3},{"t":272,"v":0.28},{"t":275,"v":0.35},{"t":278,"v":0.25},{"t":281,"v":0.3},{"t":284,"v":0.22},{"t":287,"v":0.28},{"t":290,"v":0.25},{"t":293,"v":0.28},{"t":296,"v":0.22},{"t":298,"v":0.25},{"t":300,"v":0.22}],
"p14x": [{"t":0,"v":0},{"t":2,"v":0.05},{"t":4,"v":0.12},{"t":8,"v":0.12},{"t":12,"v":0.1},{"t":16,"v":0.1},{"t":20,"v":0.1},{"t":24,"v":0.08},{"t":27,"v":0.05},{"t":29,"v":0.4},{"t":31,"v":0.9},{"t":33,"v":1.2},{"t":36,"v":1.2},{"t":40,"v":1.2},{"t":45,"v":1.22},{"t":50,"v":1.2},{"t":55,"v":1.22},{"t":60,"v":1.2},{"t":65,"v":1.2},{"t":68,"v":1.15},{"t":70,"v":1.12},{"t":73,"v":1.08},{"t":76,"v":1.05},{"t":80,"v":1.0},{"t":83,"v":1.02},{"t":86,"v":0.96},{"t":88,"v":0.98},{"t":90,"v":1.06},{"t":93,"v":1.04},{"t":96,"v":1.05},{"t":100,"v":1.02},{"t":103,"v":1.06},{"t":106,"v":1.08},{"t":110,"v":1.1},{"t":113,"v":1.12},{"t":116,"v":1.15},{"t":119,"v":1.2},{"t":122,"v":1.22},{"t":124,"v":1.2},{"t":126,"v":1.18},{"t":128,"v":1.05},{"t":130,"v":0.85},{"t":132,"v":0.65},{"t":134,"v":0.4},{"t":136,"v":0.15},{"t":137,"v":0.2},{"t":139,"v":0.55},{"t":141,"v":0.8},{"t":143,"v":0.95},{"t":145,"v":0.98},{"t":147,"v":0.95},{"t":150,"v":0.98},{"t":152,"v":0.95},{"t":154,"v":1.05},{"t":156,"v":1.15},{"t":158,"v":1.25},{"t":160,"v":1.3},{"t":162,"v":1.35},{"t":165,"v":1.38},{"t":168,"v":1.42},{"t":171,"v":1.45},{"t":174,"v":1.46},{"t":177,"v":1.5},{"t":180,"v":1.48},{"t":183,"v":1.52},{"t":186,"v":1.55},{"t":189,"v":1.54},{"t":192,"v":1.58},{"t":195,"v":1.6},{"t":198,"v":1.62},{"t":201,"v":1.6},{"t":204,"v":1.66},{"t":207,"v":1.68},{"t":210,"v":1.72},{"t":213,"v":1.7},{"t":216,"v":1.76},{"t":219,"v":1.78},{"t":222,"v":1.8},{"t":226,"v":1.82},{"t":230,"v":1.85},{"t":234,"v":1.88},{"t":238,"v":1.9},{"t":242,"v":1.92},{"t":246,"v":1.95},{"t":250,"v":1.98},{"t":254,"v":2.0},{"t":258,"v":2.02},{"t":262,"v":2.04},{"t":266,"v":2.06},{"t":270,"v":2.08},{"t":274,"v":2.1},{"t":278,"v":2.12},{"t":282,"v":2.15},{"t":286,"v":2.18},{"t":290,"v":2.22},{"t":294,"v":2.28},{"t":297,"v":2.32},{"t":300,"v":2.37}],
"p14y": [{"t":0,"v":0},{"t":2,"v":0.12},{"t":3,"v":0.05},{"t":4,"v":0.2},{"t":5,"v":0.1},{"t":6,"v":0.15},{"t":7,"v":0},{"t":8,"v":0.15},{"t":9,"v":0.3},{"t":10,"v":0.25},{"t":12,"v":0.35},{"t":14,"v":0.4},{"t":16,"v":0.35},{"t":18,"v":0.45},{"t":20,"v":0.5},{"t":22,"v":0.45},{"t":24,"v":0.35},{"t":26,"v":0.4},{"t":28,"v":0.3},{"t":30,"v":0.5},{"t":32,"v":0.85},{"t":33,"v":0.97},{"t":35,"v":0.85},{"t":37,"v":0.8},{"t":40,"v":0.78},{"t":43,"v":0.72},{"t":46,"v":0.7},{"t":48,"v":0.58},{"t":50,"v":0.55},{"t":53,"v":0.45},{"t":56,"v":0.4},{"t":58,"v":0.3},{"t":60,"v":0.25},{"t":62,"v":0.3},{"t":64,"v":0.45},{"t":66,"v":0.52},{"t":68,"v":0.55},{"t":70,"v":0.5},{"t":72,"v":0.55},{"t":74,"v":0.48},{"t":76,"v":0.45},{"t":78,"v":0.58},{"t":80,"v":0.52},{"t":82,"v":0.48},{"t":84,"v":0.42},{"t":86,"v":0.4},{"t":88,"v":0.2},{"t":90,"v":0.25},{"t":92,"v":0.22},{"t":95,"v":0.25},{"t":98,"v":0.2},{"t":100,"v":0.15},{"t":103,"v":0.2},{"t":106,"v":0.18},{"t":109,"v":0.12},{"t":112,"v":0.1},{"t":115,"v":0.05},{"t":118,"v":0.05},{"t":121,"v":0.02},{"t":124,"v":0},{"t":126,"v":0.05},{"t":128,"v":0.15},{"t":130,"v":0.35},{"t":132,"v":0.8},{"t":134,"v":1.3},{"t":136,"v":1.8},{"t":138,"v":2.2},{"t":140,"v":2.6},{"t":142,"v":2.9},{"t":144,"v":3.2},{"t":146,"v":3.4},{"t":147,"v":3.45},{"t":148,"v":3.4},{"t":150,"v":3.38},{"t":153,"v":3.45},{"t":156,"v":3.52},{"t":160,"v":3.58},{"t":164,"v":3.65},{"t":168,"v":3.72},{"t":172,"v":3.78},{"t":176,"v":3.85},{"t":180,"v":3.92},{"t":184,"v":3.96},{"t":188,"v":4.0},{"t":192,"v":4.03},{"t":196,"v":4.06},{"t":200,"v":4.1},{"t":204,"v":4.15},{"t":208,"v":4.18},{"t":212,"v":4.22},{"t":216,"v":4.26},{"t":220,"v":4.3},{"t":224,"v":4.35},{"t":228,"v":4.38},{"t":232,"v":4.4},{"t":236,"v":4.44},{"t":240,"v":4.48},{"t":244,"v":4.5},{"t":248,"v":4.55},{"t":252,"v":4.58},{"t":256,"v":4.62},{"t":260,"v":4.65},{"t":264,"v":4.68},{"t":268,"v":4.7},{"t":272,"v":4.72},{"t":276,"v":4.76},{"t":280,"v":4.8},{"t":284,"v":4.82},{"t":288,"v":4.85},{"t":292,"v":4.88},{"t":296,"v":4.9},{"t":300,"v":4.9}],
"p16x": [{"t":0,"v":0},{"t":5,"v":0},{"t":10,"v":0},{"t":12,"v":0.2},{"t":14,"v":0.6},{"t":16,"v":0.8},{"t":20,"v":0.8},{"t":24,"v":0.78},{"t":28,"v":0.82},{"t":32,"v":0.85},{"t":36,"v":0.85},{"t":40,"v":0.85},{"t":45,"v":0.83},{"t":50,"v":0.8},{"t":55,"v":0.78},{"t":60,"v":0.74},{"t":65,"v":0.7},{"t":68,"v":0.66},{"t":70,"v":0.68},{"t":73,"v":0.72},{"t":76,"v":0.76},{"t":80,"v":0.75},{"t":83,"v":0.77},{"t":86,"v":0.74},{"t":88,"v":0.72},{"t":89,"v":0.3},{"t":90,"v":0.05},{"t":91,"v":0.2},{"t":92,"v":0.5},{"t":94,"v":1.2},{"t":96,"v":1.6},{"t":98,"v":2.2},{"t":100,"v":2.8},{"t":103,"v":2.82},{"t":106,"v":2.8},{"t":109,"v":2.88},{"t":112,"v":2.85},{"t":115,"v":2.92},{"t":118,"v":2.95},{"t":121,"v":2.95},{"t":124,"v":3.0},{"t":127,"v":2.95},{"t":130,"v":2.98},{"t":133,"v":3.02},{"t":135,"v":3.05},{"t":137,"v":2.95},{"t":139,"v":2.85},{"t":141,"v":2.88},{"t":144,"v":2.95},{"t":147,"v":2.98},{"t":150,"v":3.02},{"t":153,"v":3.05},{"t":156,"v":3.08},{"t":160,"v":3.12},{"t":164,"v":3.15},{"t":168,"v":3.2},{"t":172,"v":3.22},{"t":176,"v":3.25},{"t":180,"v":3.28},{"t":184,"v":3.25},{"t":187,"v":3.27},{"t":190,"v":3.2},{"t":193,"v":3.12},{"t":196,"v":3.06},{"t":200,"v":2.95},{"t":204,"v":2.82},{"t":208,"v":2.72},{"t":212,"v":2.6},{"t":216,"v":2.48},{"t":220,"v":2.35},{"t":224,"v":2.22},{"t":228,"v":2.08},{"t":232,"v":1.92},{"t":236,"v":1.78},{"t":240,"v":1.65},{"t":244,"v":1.52},{"t":248,"v":1.4},{"t":252,"v":1.25},{"t":256,"v":1.1},{"t":260,"v":0.95},{"t":264,"v":0.8},{"t":268,"v":0.65},{"t":272,"v":0.48},{"t":276,"v":0.32},{"t":280,"v":0.2},{"t":283,"v":0.1},{"t":286,"v":0.02},{"t":288,"v":0},{"t":291,"v":0.05},{"t":294,"v":0.12},{"t":297,"v":0.2},{"t":300,"v":0.18}],
"p16y": [{"t":0,"v":0},{"t":2,"v":0.08},{"t":4,"v":0.05},{"t":6,"v":0.2},{"t":8,"v":0.3},{"t":10,"v":0.25},{"t":12,"v":0.45},{"t":14,"v":0.6},{"t":16,"v":0.75},{"t":18,"v":0.7},{"t":20,"v":0.8},{"t":22,"v":0.85},{"t":24,"v":0.72},{"t":26,"v":0.78},{"t":28,"v":0.8},{"t":29,"v":0.15},{"t":31,"v":0.12},{"t":33,"v":0.2},{"t":35,"v":0.05},{"t":37,"v":0.15},{"t":39,"v":0.2},{"t":41,"v":0.1},{"t":43,"v":0.25},{"t":45,"v":0.15},{"t":47,"v":0.2},{"t":49,"v":0},{"t":51,"v":0.3},{"t":53,"v":0.25},{"t":55,"v":0.3},{"t":58,"v":0.28},{"t":61,"v":0.32},{"t":64,"v":0.25},{"t":67,"v":0.3},{"t":70,"v":0.28},{"t":73,"v":0.25},{"t":76,"v":0.32},{"t":79,"v":0.28},{"t":82,"v":0.35},{"t":85,"v":0.3},{"t":87,"v":0.4},{"t":88,"v":0.35},{"t":89,"v":0.2},{"t":91,"v":0.5},{"t":92,"v":0.9},{"t":94,"v":1.2},{"t":96,"v":1.6},{"t":98,"v":2.1},{"t":100,"v":2.4},{"t":102,"v":2.38},{"t":105,"v":2.32},{"t":108,"v":2.25},{"t":111,"v":2.2},{"t":114,"v":2.18},{"t":117,"v":2.15},{"t":120,"v":2.16},{"t":123,"v":2.15},{"t":126,"v":2.18},{"t":129,"v":2.15},{"t":132,"v":2.12},{"t":135,"v":2.1},{"t":138,"v":2.15},{"t":141,"v":2.2},{"t":144,"v":2.2},{"t":147,"v":2.22},{"t":150,"v":2.25},{"t":154,"v":2.32},{"t":158,"v":2.4},{"t":162,"v":2.48},{"t":166,"v":2.56},{"t":170,"v":2.64},{"t":174,"v":2.72},{"t":178,"v":2.8},{"t":182,"v":2.88},{"t":186,"v":2.96},{"t":190,"v":3.04},{"t":194,"v":3.1},{"t":198,"v":3.15},{"t":202,"v":3.2},{"t":206,"v":3.25},{"t":210,"v":3.3},{"t":214,"v":3.32},{"t":218,"v":3.35},{"t":222,"v":3.34},{"t":226,"v":3.36},{"t":230,"v":3.33},{"t":234,"v":3.35},{"t":238,"v":3.36},{"t":242,"v":3.34},{"t":246,"v":3.37},{"t":250,"v":3.35},{"t":254,"v":3.33},{"t":258,"v":3.32},{"t":262,"v":3.34},{"t":266,"v":3.3},{"t":270,"v":3.31},{"t":274,"v":3.28},{"t":278,"v":3.32},{"t":282,"v":3.3},{"t":286,"v":3.28},{"t":290,"v":3.3},{"t":294,"v":3.25},{"t":297,"v":3.24},{"t":300,"v":3.2}],
"p16z": [{"t":0,"v":0},{"t":10,"v":0},{"t":16,"v":0.15},{"t":50,"v":0.16},{"t":100,"v":0.17},{"t":150,"v":0.16},{"t":200,"v":0.15},{"t":250,"v":0.13},{"t":300,"v":0.1}],
"p18x": [{"t":0,"v":0},{"t":16,"v":0},{"t":17,"v":0.15},{"t":18,"v":0.3},{"t":19,"v":0.45},{"t":20,"v":0.5},{"t":22,"v":0.55},{"t":25,"v":0.6},{"t":30,"v":0.6},{"t":35,"v":0.62},{"t":40,"v":0.62},{"t":45,"v":0.63},{"t":50,"v":0.64},{"t":55,"v":0.64},{"t":60,"v":0.63},{"t":65,"v":0.62},{"t":70,"v":0.6},{"t":71,"v":0.5},{"t":72,"v":0.3},{"t":73,"v":0.1},{"t":74,"v":0.02},{"t":75,"v":0.05},{"t":76,"v":0.4},{"t":77,"v":0.9},{"t":78,"v":1.2},{"t":79,"v":1.45},{"t":80,"v":1.5},{"t":83,"v":1.55},{"t":86,"v":1.55},{"t":89,"v":1.58},{"t":92,"v":1.6},{"t":95,"v":1.62},{"t":98,"v":1.66},{"t":101,"v":1.68},{"t":104,"v":1.72},{"t":107,"v":1.74},{"t":110,"v":1.78},{"t":113,"v":1.82},{"t":116,"v":1.85},{"t":119,"v":1.9},{"t":122,"v":1.95},{"t":125,"v":2.0},{"t":128,"v":2.02},{"t":131,"v":2.05},{"t":134,"v":2.08},{"t":136,"v":2.15},{"t":138,"v":2.05},{"t":140,"v":2.02},{"t":143,"v":2.1},{"t":146,"v":2.12},{"t":149,"v":2.15},{"t":152,"v":2.15},{"t":155,"v":2.18},{"t":158,"v":2.2},{"t":161,"v":2.22},{"t":164,"v":2.25},{"t":167,"v":2.28},{"t":170,"v":2.3},{"t":173,"v":2.32},{"t":176,"v":2.35},{"t":179,"v":2.35},{"t":182,"v":2.33},{"t":185,"v":2.32},{"t":188,"v":2.3},{"t":191,"v":2.28},{"t":194,"v":2.25},{"t":197,"v":2.22},{"t":200,"v":2.2},{"t":203,"v":2.15},{"t":206,"v":2.1},{"t":209,"v":2.05},{"t":212,"v":1.98},{"t":215,"v":1.9},{"t":218,"v":1.82},{"t":221,"v":1.74},{"t":224,"v":1.65},{"t":227,"v":1.56},{"t":230,"v":1.46},{"t":233,"v":1.36},{"t":236,"v":1.26},{"t":239,"v":1.16},{"t":242,"v":1.05},{"t":245,"v":0.94},{"t":248,"v":0.83},{"t":251,"v":0.72},{"t":254,"v":0.6},{"t":257,"v":0.48},{"t":260,"v":0.36},{"t":263,"v":0.24},{"t":266,"v":0.1},{"t":268,"v":0},{"t":270,"v":0.12},{"t":273,"v":0.24},{"t":276,"v":0.34},{"t":279,"v":0.44},{"t":282,"v":0.52},{"t":285,"v":0.6},{"t":288,"v":0.68},{"t":291,"v":0.74},{"t":294,"v":0.8},{"t":297,"v":0.84},{"t":300,"v":0.86}],
"p18y": [{"t":0,"v":0.1},{"t":2,"v":0.15},{"t":4,"v":0.05},{"t":6,"v":0.12},{"t":8,"v":0.05},{"t":10,"v":0.15},{"t":12,"v":0.05},{"t":14,"v":0.12},{"t":16,"v":0.05},{"t":18,"v":0.5},{"t":19,"v":1.0},{"t":20,"v":1.5},{"t":21,"v":1.7},{"t":22,"v":1.8},{"t":23,"v":1.75},{"t":24,"v":1.85},{"t":25,"v":1.7},{"t":26,"v":1.75},{"t":27,"v":1.85},{"t":28,"v":1.82},{"t":29,"v":1.5},{"t":30,"v":1.2},{"t":31,"v":1.15},{"t":32,"v":1.3},{"t":33,"v":1.25},{"t":34,"v":1.1},{"t":35,"v":1.2},{"t":36,"v":1.3},{"t":37,"v":1.25},{"t":38,"v":1.3},{"t":39,"v":1.2},{"t":40,"v":1.15},{"t":41,"v":1.35},{"t":42,"v":1.5},{"t":43,"v":1.6},{"t":45,"v":1.55},{"t":47,"v":1.6},{"t":49,"v":1.7},{"t":51,"v":1.68},{"t":53,"v":1.78},{"t":55,"v":1.8},{"t":57,"v":1.85},{"t":59,"v":1.88},{"t":61,"v":1.92},{"t":63,"v":1.95},{"t":65,"v":2.02},{"t":66,"v":1.98},{"t":67,"v":2.0},{"t":68,"v":1.7},{"t":69,"v":1.5},{"t":70,"v":1.35},{"t":71,"v":1.3},{"t":72,"v":0.8},{"t":73,"v":0.3},{"t":74,"v":0.15},{"t":75,"v":0.1},{"t":76,"v":0.5},{"t":77,"v":1.0},{"t":78,"v":1.35},{"t":79,"v":1.3},{"t":80,"v":1.45},{"t":81,"v":1.35},{"t":82,"v":1.4},{"t":84,"v":1.3},{"t":86,"v":1.35},{"t":88,"v":1.15},{"t":90,"v":1.05},{"t":92,"v":1.2},{"t":94,"v":1.18},{"t":96,"v":1.25},{"t":98,"v":1.2},{"t":100,"v":1.28},{"t":103,"v":1.3},{"t":106,"v":1.32},{"t":109,"v":1.38},{"t":112,"v":1.3},{"t":115,"v":1.32},{"t":118,"v":1.22},{"t":121,"v":1.25},{"t":124,"v":1.3},{"t":127,"v":1.28},{"t":130,"v":1.35},{"t":133,"v":1.4},{"t":136,"v":1.45},{"t":138,"v":1.55},{"t":140,"v":1.58},{"t":143,"v":1.6},{"t":146,"v":1.62},{"t":149,"v":1.68},{"t":152,"v":1.8},{"t":155,"v":1.92},{"t":158,"v":2.06},{"t":161,"v":2.2},{"t":164,"v":2.34},{"t":167,"v":2.48},{"t":170,"v":2.6},{"t":173,"v":2.72},{"t":176,"v":2.84},{"t":179,"v":2.96},{"t":182,"v":3.06},{"t":185,"v":3.16},{"t":188,"v":3.26},{"t":191,"v":3.36},{"t":194,"v":3.42},{"t":197,"v":3.5},{"t":200,"v":3.56},{"t":203,"v":3.62},{"t":206,"v":3.68},{"t":209,"v":3.74},{"t":212,"v":3.8},{"t":215,"v":3.86},{"t":218,"v":3.9},{"t":221,"v":3.94},{"t":224,"v":3.98},{"t":227,"v":4.02},{"t":230,"v":4.06},{"t":233,"v":4.08},{"t":236,"v":4.12},{"t":239,"v":4.14},{"t":242,"v":4.18},{"t":245,"v":4.2},{"t":248,"v":4.24},{"t":251,"v":4.26},{"t":254,"v":4.3},{"t":257,"v":4.32},{"t":260,"v":4.35},{"t":263,"v":4.38},{"t":266,"v":4.4},{"t":269,"v":4.45},{"t":272,"v":4.48},{"t":275,"v":4.5},{"t":278,"v":4.52},{"t":281,"v":4.55},{"t":284,"v":4.58},{"t":287,"v":4.6},{"t":290,"v":4.64},{"t":293,"v":4.7},{"t":295,"v":4.66},{"t":297,"v":4.7},{"t":300,"v":4.64}],
"p18z": [{"t":0,"v":0},{"t":15,"v":0},{"t":20,"v":0.05},{"t":25,"v":0.08},{"t":30,"v":0.1},{"t":70,"v":0.1},{"t":75,"v":0.08},{"t":100,"v":0.05},{"t":150,"v":0.03},{"t":200,"v":0.02},{"t":300,"v":0.02}],
"p20x": [{"t":0,"v":0},{"t":10,"v":0},{"t":13,"v":0.1},{"t":16,"v":0.18},{"t":20,"v":0.2},{"t":25,"v":0.2},{"t":28,"v":0.18},{"t":30,"v":0.1},{"t":40,"v":0.1},{"t":50,"v":0.08},{"t":55,"v":0.05},{"t":60,"v":0.08},{"t":62,"v":0.3},{"t":64,"v":0.6},{"t":66,"v":0.82},{"t":70,"v":0.85},{"t":75,"v":0.92},{"t":80,"v":1.0},{"t":85,"v":1.15},{"t":88,"v":1.3},{"t":90,"v":1.38},{"t":95,"v":1.52},{"t":100,"v":1.65},{"t":105,"v":1.8},{"t":110,"v":1.95},{"t":115,"v":2.05},{"t":120,"v":2.12},{"t":125,"v":2.2},{"t":130,"v":2.28},{"t":135,"v":2.4},{"t":137,"v":2.45},{"t":139,"v":2.25},{"t":142,"v":2.3},{"t":145,"v":2.42},{"t":150,"v":2.52},{"t":155,"v":2.6},{"t":160,"v":2.7},{"t":165,"v":2.82},{"t":170,"v":2.9},{"t":175,"v":2.98},{"t":180,"v":3.06},{"t":185,"v":3.15},{"t":190,"v":3.28},{"t":195,"v":3.38},{"t":200,"v":3.45},{"t":205,"v":3.5},{"t":207,"v":3.55},{"t":209,"v":3.48},{"t":212,"v":3.62},{"t":216,"v":3.68},{"t":220,"v":3.75},{"t":225,"v":3.8},{"t":230,"v":3.92},{"t":235,"v":4.02},{"t":240,"v":4.15},{"t":245,"v":4.3},{"t":250,"v":4.45},{"t":255,"v":4.65},{"t":260,"v":4.85},{"t":265,"v":5.05},{"t":270,"v":5.32},{"t":275,"v":5.6},{"t":280,"v":5.9},{"t":285,"v":6.22},{"t":290,"v":6.6},{"t":295,"v":6.95},{"t":300,"v":7.35}],
"p20y": [{"t":0,"v":0.05},{"t":2,"v":0.1},{"t":3,"v":0.15},{"t":5,"v":0.05},{"t":8,"v":0.08},{"t":10,"v":0.1},{"t":12,"v":0.05},{"t":14,"v":0.2},{"t":15,"v":0.4},{"t":17,"v":0.5},{"t":18,"v":0.45},{"t":20,"v":0.65},{"t":21,"v":0.55},{"t":22,"v":0.6},{"t":24,"v":0.55},{"t":25,"v":0.7},{"t":26,"v":0.6},{"t":27,"v":0.8},{"t":27.5,"v":0.5},{"t":28,"v":0.1},{"t":30,"v":0.05},{"t":33,"v":0.08},{"t":36,"v":0.05},{"t":38,"v":0.1},{"t":40,"v":0.15},{"t":42,"v":0.3},{"t":44,"v":0.4},{"t":46,"v":0.5},{"t":48,"v":0.6},{"t":49,"v":0.45},{"t":50,"v":0.7},{"t":52,"v":0.72},{"t":54,"v":0.7},{"t":56,"v":0.78},{"t":58,"v":0.85},{"t":60,"v":0.9},{"t":62,"v":0.85},{"t":64,"v":0.82},{"t":66,"v":0.85},{"t":67,"v":0.6},{"t":68,"v":0.3},{"t":69,"v":0.1},{"t":70,"v":0.5},{"t":72,"v":1.3},{"t":74,"v":2.05},{"t":76,"v":2.0},{"t":78,"v":1.9},{"t":80,"v":1.85},{"t":82,"v":1.95},{"t":84,"v":1.8},{"t":86,"v":1.6},{"t":88,"v":1.45},{"t":90,"v":1.4},{"t":93,"v":1.35},{"t":96,"v":1.3},{"t":100,"v":1.28},{"t":104,"v":1.25},{"t":107,"v":1.2},{"t":110,"v":1.1},{"t":113,"v":1.05},{"t":116,"v":1.0},{"t":120,"v":1.0},{"t":124,"v":0.98},{"t":128,"v":0.95},{"t":132,"v":0.92},{"t":136,"v":0.98},{"t":140,"v":1.05},{"t":143,"v":1.0},{"t":147,"v":0.95},{"t":151,"v":0.92},{"t":155,"v":0.9},{"t":160,"v":0.85},{"t":165,"v":0.82},{"t":170,"v":0.78},{"t":175,"v":0.75},{"t":180,"v":0.72},{"t":185,"v":0.68},{"t":190,"v":0.65},{"t":195,"v":0.65},{"t":200,"v":0.62},{"t":205,"v":0.6},{"t":210,"v":0.58},{"t":215,"v":0.55},{"t":220,"v":0.52},{"t":225,"v":0.48},{"t":230,"v":0.4},{"t":235,"v":0.32},{"t":240,"v":0.25},{"t":245,"v":0.18},{"t":250,"v":0.1},{"t":253,"v":0.05},{"t":256,"v":0.02},{"t":259,"v":0.02},{"t":262,"v":0.08},{"t":265,"v":0.15},{"t":268,"v":0.2},{"t":270,"v":0.28},{"t":273,"v":0.3},{"t":276,"v":0.38},{"t":279,"v":0.4},{"t":282,"v":0.45},{"t":285,"v":0.5},{"t":288,"v":0.48},{"t":290,"v":0.55},{"t":292,"v":0.6},{"t":294,"v":0.55},{"t":296,"v":0.62},{"t":298,"v":0.55},{"t":300,"v":0.55}],
"p20z": [{"t":0,"v":0},{"t":5,"v":0},{"t":10,"v":0.05},{"t":50,"v":0.05},{"t":100,"v":0.05},{"t":150,"v":0.06},{"t":200,"v":0.07},{"t":250,"v":0.08},{"t":300,"v":0.1}]
},
"columns": 3,
"spacing": {"row": 77, "column": 63},
"bounds": "flush",
"concat": [
{"title": "Order of the Bézier Series: 4", "width": 316, "height": 115,
 "encoding": {"x": {"field": "t", "type": "quantitative", "scale": {"domain": [0, 300], "nice": false, "zero": false}, "axis": {"values": [0,50,100,150,200,250,300], "title": "Time - [s]"}}, "y": {"field": "v", "type": "quantitative", "scale": {"domain": [0, 6], "nice": false}, "axis": {"values": [0,2,4,6], "format": "~g", "title": "|xC(t) − xB(t)| - [m]"}}},
 "layer": [
  {"data": {"name": "p4x"}, "mark": "line", "encoding": {"color": {"datum": "x", "scale": {"domain": ["x","y","z"], "range": ["#ff0000","#0000ff","#00ff00"]}, "legend": {"title": null}}}},
  {"data": {"name": "p4y"}, "mark": "line", "encoding": {"color": {"datum": "y"}}},
  {"data": {"name": "p4z"}, "mark": "line", "encoding": {"color": {"datum": "z"}}},
  {"data": {"values": [{"t": 0, "v": 6, "label": "×10⁻¹⁵"}]}, "mark": {"type": "text", "align": "left", "baseline": "bottom", "dy": -5, "fontSize": 15, "color": "#262626", "font": "Liberation Serif"}, "encoding": {"text": {"field": "label"}}}
 ]},
{"title": "Order of the Bézier Series: 6", "width": 316, "height": 115,
 "encoding": {"x": {"field": "t", "type": "quantitative", "scale": {"domain": [0, 300], "nice": false, "zero": false}, "axis": {"values": [0,50,100,150,200,250,300], "title": "Time - [s]"}}, "y": {"field": "v", "type": "quantitative", "scale": {"domain": [0, 6], "nice": false}, "axis": {"values": [0,2,4,6], "format": "~g", "title": "|xC(t) − xB(t)| - [m]"}}},
 "layer": [
  {"data": {"name": "p6x"}, "mark": "line", "encoding": {"color": {"datum": "x"}}},
  {"data": {"name": "p6y"}, "mark": "line", "encoding": {"color": {"datum": "y"}}},
  {"data": {"name": "zero"}, "mark": "line", "encoding": {"color": {"datum": "z"}}},
  {"data": {"values": [{"t": 0, "v": 6, "label": "×10⁻¹⁵"}]}, "mark": {"type": "text", "align": "left", "baseline": "bottom", "dy": -5, "fontSize": 15, "color": "#262626", "font": "Liberation Serif"}, "encoding": {"text": {"field": "label"}}}
 ]},
{"title": "Order of the Bézier Series: 8", "width": 316, "height": 115,
 "encoding": {"x": {"field": "t", "type": "quantitative", "scale": {"domain": [0, 300], "nice": false, "zero": false}, "axis": {"values": [0,50,100,150,200,250,300], "title": "Time - [s]"}}, "y": {"field": "v", "type": "quantitative", "scale": {"domain": [0, 6], "nice": false}, "axis": {"values": [0,2,4,6], "format": "~g", "title": "|xC(t) − xB(t)| - [m]"}}},
 "layer": [
  {"data": {"name": "p8x"}, "mark": "line", "encoding": {"color": {"datum": "x"}}},
  {"data": {"name": "p8y"}, "mark": "line", "encoding": {"color": {"datum": "y"}}},
  {"data": {"name": "zero"}, "mark": "line", "encoding": {"color": {"datum": "z"}}},
  {"data": {"values": [{"t": 0, "v": 6, "label": "×10⁻¹⁵"}]}, "mark": {"type": "text", "align": "left", "baseline": "bottom", "dy": -5, "fontSize": 15, "color": "#262626", "font": "Liberation Serif"}, "encoding": {"text": {"field": "label"}}}
 ]},
{"title": "Order of the Bézier Series: 10", "width": 316, "height": 115,
 "encoding": {"x": {"field": "t", "type": "quantitative", "scale": {"domain": [0, 300], "nice": false, "zero": false}, "axis": {"values": [0,50,100,150,200,250,300], "title": "Time - [s]"}}, "y": {"field": "v", "type": "quantitative", "scale": {"domain": [0, 1.5], "nice": false}, "axis": {"values": [0,0.5,1,1.5], "format": "~g", "title": "|xC(t) − xB(t)| - [m]"}}},
 "layer": [
  {"data": {"name": "p10x"}, "mark": "line", "encoding": {"color": {"datum": "x"}}},
  {"data": {"name": "p10y"}, "mark": "line", "encoding": {"color": {"datum": "y"}}},
  {"data": {"name": "zero"}, "mark": "line", "encoding": {"color": {"datum": "z"}}},
  {"data": {"values": [{"t": 0, "v": 1.5, "label": "×10⁻¹⁴"}]}, "mark": {"type": "text", "align": "left", "baseline": "bottom", "dy": -5, "fontSize": 15, "color": "#262626", "font": "Liberation Serif"}, "encoding": {"text": {"field": "label"}}}
 ]},
{"title": "Order of the Bézier Series: 12", "width": 316, "height": 115,
 "encoding": {"x": {"field": "t", "type": "quantitative", "scale": {"domain": [0, 300], "nice": false, "zero": false}, "axis": {"values": [0,50,100,150,200,250,300], "title": "Time - [s]"}}, "y": {"field": "v", "type": "quantitative", "scale": {"domain": [0, 2], "nice": false}, "axis": {"values": [0,1,2], "format": "~g", "title": "|xC(t) − xB(t)| - [m]"}}},
 "layer": [
  {"data": {"name": "p12x"}, "mark": "line", "encoding": {"color": {"datum": "x"}}},
  {"data": {"name": "p12y"}, "mark": "line", "encoding": {"color": {"datum": "y"}}},
  {"data": {"name": "zero"}, "mark": "line", "encoding": {"color": {"datum": "z"}}},
  {"data": {"values": [{"t": 0, "v": 2, "label": "×10⁻¹⁴"}]}, "mark": {"type": "text", "align": "left", "baseline": "bottom", "dy": -5, "fontSize": 15, "color": "#262626", "font": "Liberation Serif"}, "encoding": {"text": {"field": "label"}}}
 ]},
{"title": "Order of the Bézier Series: 14", "width": 316, "height": 115,
 "encoding": {"x": {"field": "t", "type": "quantitative", "scale": {"domain": [0, 300], "nice": false, "zero": false}, "axis": {"values": [0,50,100,150,200,250,300], "title": "Time - [s]"}}, "y": {"field": "v", "type": "quantitative", "scale": {"domain": [0, 6], "nice": false}, "axis": {"values": [0,2,4,6], "format": "~g", "title": "|xC(t) − xB(t)| - [m]"}}},
 "layer": [
  {"data": {"name": "p14x"}, "mark": "line", "encoding": {"color": {"datum": "x"}}},
  {"data": {"name": "p14y"}, "mark": "line", "encoding": {"color": {"datum": "y"}}},
  {"data": {"name": "zero"}, "mark": "line", "encoding": {"color": {"datum": "z"}}},
  {"data": {"values": [{"t": 0, "v": 6, "label": "×10⁻¹⁴"}]}, "mark": {"type": "text", "align": "left", "baseline": "bottom", "dy": -5, "fontSize": 15, "color": "#262626", "font": "Liberation Serif"}, "encoding": {"text": {"field": "label"}}}
 ]},
{"title": "Order of the Bézier Series: 16", "width": 316, "height": 115,
 "encoding": {"x": {"field": "t", "type": "quantitative", "scale": {"domain": [0, 300], "nice": false, "zero": false}, "axis": {"values": [0,50,100,150,200,250,300], "title": "Time - [s]"}}, "y": {"field": "v", "type": "quantitative", "scale": {"domain": [0, 4], "nice": false}, "axis": {"values": [0,2,4], "format": "~g", "title": "|xC(t) − xB(t)| - [m]"}}},
 "layer": [
  {"data": {"name": "p16x"}, "mark": "line", "encoding": {"color": {"datum": "x"}}},
  {"data": {"name": "p16y"}, "mark": "line", "encoding": {"color": {"datum": "y"}}},
  {"data": {"name": "p16z"}, "mark": "line", "encoding": {"color": {"datum": "z"}}},
  {"data": {"values": [{"t": 0, "v": 4, "label": "×10⁻¹⁴"}]}, "mark": {"type": "text", "align": "left", "baseline": "bottom", "dy": -5, "fontSize": 15, "color": "#262626", "font": "Liberation Serif"}, "encoding": {"text": {"field": "label"}}}
 ]},
{"title": "Order of the Bézier Series: 18", "width": 316, "height": 115,
 "encoding": {"x": {"field": "t", "type": "quantitative", "scale": {"domain": [0, 300], "nice": false, "zero": false}, "axis": {"values": [0,50,100,150,200,250,300], "title": "Time - [s]"}}, "y": {"field": "v", "type": "quantitative", "scale": {"domain": [0, 4.8], "nice": false}, "axis": {"values": [0,2,4], "format": "~g", "title": "|xC(t) − xB(t)| - [m]"}}},
 "layer": [
  {"data": {"name": "p18x"}, "mark": "line", "encoding": {"color": {"datum": "x"}}},
  {"data": {"name": "p18y"}, "mark": "line", "encoding": {"color": {"datum": "y"}}},
  {"data": {"name": "p18z"}, "mark": "line", "encoding": {"color": {"datum": "z"}}},
  {"data": {"values": [{"t": 0, "v": 4.8, "label": "×10⁻¹⁴"}]}, "mark": {"type": "text", "align": "left", "baseline": "bottom", "dy": -5, "fontSize": 15, "color": "#262626", "font": "Liberation Serif"}, "encoding": {"text": {"field": "label"}}}
 ]},
{"title": "Order of the Bézier Series: 20", "width": 316, "height": 115,
 "encoding": {"x": {"field": "t", "type": "quantitative", "scale": {"domain": [0, 300], "nice": false, "zero": false}, "axis": {"values": [0,50,100,150,200,250,300], "title": "Time - [s]"}}, "y": {"field": "v", "type": "quantitative", "scale": {"domain": [0, 7.4], "nice": false}, "axis": {"values": [0,2,4,6], "format": "~g", "title": "|xC(t) − xB(t)| - [m]"}}},
 "layer": [
  {"data": {"name": "p20x"}, "mark": "line", "encoding": {"color": {"datum": "x"}}},
  {"data": {"name": "p20y"}, "mark": "line", "encoding": {"color": {"datum": "y"}}},
  {"data": {"name": "p20z"}, "mark": "line", "encoding": {"color": {"datum": "z"}}},
  {"data": {"values": [{"t": 0, "v": 7.4, "label": "×10⁻¹⁴"}]}, "mark": {"type": "text", "align": "left", "baseline": "bottom", "dy": -5, "fontSize": 15, "color": "#262626", "font": "Liberation Serif"}, "encoding": {"text": {"field": "label"}}}
 ]}
]
}
